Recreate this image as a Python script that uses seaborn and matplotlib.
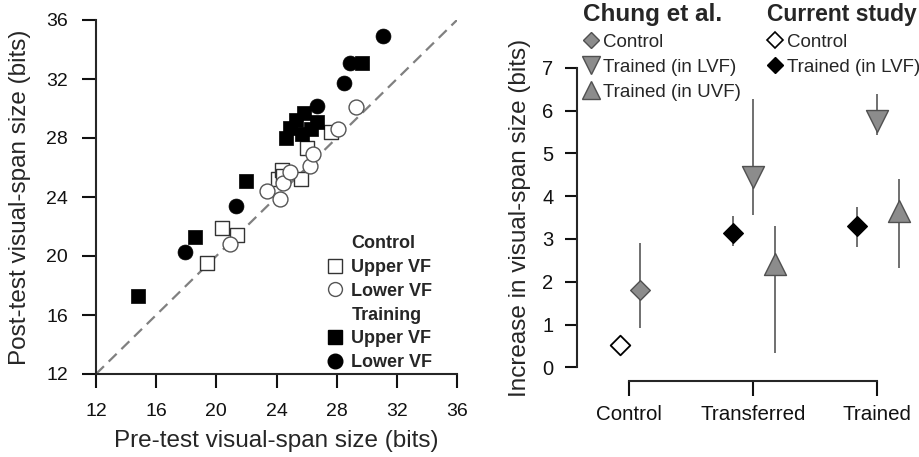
import matplotlib
matplotlib.use("Agg")
import matplotlib.pyplot as plt
import seaborn as sns
import pandas as pd
from matplotlib.lines import Line2D

# ---------------- Left panel data (pre vs post visual-span size, bits) ----------------
ctrl_upper_pre = [19.4, 20.4, 21.4, 24.1, 24.35, 24.45, 25.6, 26.0, 27.6]
ctrl_upper_post = [19.5, 21.9, 21.4, 25.2, 25.85, 25.4, 25.2, 27.3, 28.4]
ctrl_lower_pre = [20.9, 23.35, 24.2, 24.45, 24.9, 26.2, 26.45, 28.1, 29.3]
ctrl_lower_post = [20.8, 24.4, 23.85, 24.95, 25.7, 26.1, 26.9, 28.6, 30.1]
train_upper_pre = [14.8, 18.6, 22.0, 24.6, 24.9, 25.3, 25.8, 25.7, 26.3, 26.7, 29.7]
train_upper_post = [17.3, 21.3, 25.1, 28.0, 28.7, 29.2, 29.7, 28.3, 28.6, 29.1, 33.1]
train_lower_pre = [17.9, 21.3, 26.7, 28.5, 28.9, 31.1]
train_lower_post = [20.3, 23.4, 30.2, 31.7, 33.1, 34.9]
axis_ticks_left = [12, 16, 20, 24, 28, 32, 36]

# ---------------- Right panel data (increase in visual-span size, bits) ----------------
categories = ["Control", "Transferred", "Trained"]
chung_ctrl_cat = ["Control"]
chung_ctrl_mean = [1.81]
chung_ctrl_lo = [0.91]
chung_ctrl_hi = [2.90]
chung_lvf_cat = ["Transferred", "Trained"]
chung_lvf_mean = [4.45, 5.76]
chung_lvf_lo = [3.56, 5.43]
chung_lvf_hi = [6.28, 6.39]
chung_uvf_cat = ["Transferred", "Trained"]
chung_uvf_mean = [2.42, 3.66]
chung_uvf_lo = [0.34, 2.31]
chung_uvf_hi = [3.31, 4.39]
cur_ctrl_cat = ["Control"]
cur_ctrl_mean = [0.52]
cur_lvf_cat = ["Transferred", "Trained"]
cur_lvf_mean = [3.13, 3.31]
cur_lvf_lo = [2.84, 2.82]
cur_lvf_hi = [3.53, 3.74]
right_yticks = [0, 1, 2, 3, 4, 5, 6, 7]

sns.set_style("ticks")
plt.rcParams["font.family"] = ["Liberation Sans", "DejaVu Sans"]
plt.rcParams["axes.linewidth"] = 1.5
plt.rcParams["xtick.major.width"] = 1.5
plt.rcParams["ytick.major.width"] = 1.5
plt.rcParams["xtick.color"] = "#111111"
plt.rcParams["ytick.color"] = "#111111"

fig = plt.figure(figsize=(9.19, 4.57), dpi=100)
W, H = 919, 457

# ================= Left panel =================
ax1 = fig.add_axes([96 / W, (H - 374) / H, 361 / W, 354 / H])
ax1.plot([12, 36], [12, 36], ls=(0, (5, 3)), color="#808080", lw=1.6, zorder=1)

def scat(ax, xs, ys, marker, face, edge, lw):
    df = pd.DataFrame({"x": xs, "y": ys})
    sns.scatterplot(data=df, x="x", y="y", ax=ax, marker=marker, s=115,
                    color=face, edgecolor=edge, linewidth=lw, zorder=3, legend=False)

scat(ax1, ctrl_upper_pre, ctrl_upper_post, "s", "white", "#333333", 1.0)
scat(ax1, ctrl_lower_pre, ctrl_lower_post, "o", "white", "#555555", 1.0)
scat(ax1, train_upper_pre, train_upper_post, "s", "black", "black", 0.5)
scat(ax1, train_lower_pre, train_lower_post, "o", "black", "black", 0.5)

ax1.set_xlim(12, 36)
ax1.set_ylim(12, 36)
ax1.set_xticks(axis_ticks_left)
ax1.set_yticks(axis_ticks_left)
ax1.tick_params(axis="both", direction="out", length=10, labelsize=14)
ax1.tick_params(axis="x", pad=11)
ax1.tick_params(axis="y", pad=10)
ax1.set_xlabel("Pre-test visual-span size (bits)", fontsize=17.5, labelpad=7)
ax1.set_ylabel("Post-test visual-span size (bits)", fontsize=17.5, labelpad=11)
sns.despine(ax=ax1)

blank = Line2D([], [], linestyle="none", marker="none")
h_cu = Line2D([], [], linestyle="none", marker="s", markersize=10, markerfacecolor="white",
              markeredgecolor="#333333", markeredgewidth=1.0)
h_cl = Line2D([], [], linestyle="none", marker="o", markersize=10, markerfacecolor="white",
              markeredgecolor="#555555", markeredgewidth=1.0)
h_tu = Line2D([], [], linestyle="none", marker="s", markersize=10, markerfacecolor="black",
              markeredgecolor="black")
h_tl = Line2D([], [], linestyle="none", marker="o", markersize=10.5, markerfacecolor="black",
              markeredgecolor="black")
leg1 = ax1.legend([blank, h_cu, h_cl, blank, h_tu, h_tl],
                  ["Control", "Upper VF", "Lower VF", "Training", "Upper VF", "Lower VF"],
                  loc="upper left", bbox_to_anchor=(326 / W, 1 - 235 / H),
                  bbox_transform=fig.transFigure, frameon=False,
                  prop={"weight": "bold", "size": 13}, handlelength=1.0,
                  handletextpad=0.4, labelspacing=0.38, borderpad=0, borderaxespad=0)

# ================= Right panel =================
ax2 = fig.add_axes([577 / W, (H - 367.3) / H, 338 / W, 299.6 / H])
cat_pos = {c: i for i, c in enumerate(categories)}
gray_fill = "#8c8c8c"
gray_edge = "#505050"
err_col = "#707070"

def series(ax, cats, means, lo, hi, dodge, marker, size, face, edge, lw):
    xs = [cat_pos[c] + dodge for c in cats]
    if lo is not None:
        ax.vlines(xs, lo, hi, color=err_col, lw=1.4, zorder=1)
    df = pd.DataFrame({"x": xs, "y": means})
    sns.scatterplot(data=df, x="x", y="y", ax=ax, marker=marker, s=size, color=face,
                    edgecolor=edge, linewidth=lw, zorder=3, legend=False, clip_on=False)

series(ax2, chung_ctrl_cat, chung_ctrl_mean, chung_ctrl_lo, chung_ctrl_hi, 0.09, "D", 100,
       gray_fill, gray_edge, 1.0)
series(ax2, cur_ctrl_cat, cur_ctrl_mean, None, None, -0.07, "D", 100, "white", "black", 1.3)
series(ax2, cur_lvf_cat, cur_lvf_mean, cur_lvf_lo, cur_lvf_hi, -0.16, "D", 100,
       "black", "black", 1.0)
series(ax2, chung_lvf_cat, chung_lvf_mean, chung_lvf_lo, chung_lvf_hi, 0.0, "v", 250,
       gray_fill, gray_edge, 1.0)
series(ax2, chung_uvf_cat, chung_uvf_mean, chung_uvf_lo, chung_uvf_hi, 0.175, "^", 250,
       gray_fill, gray_edge, 1.0)

ax2.set_xlim(-0.42, 2.306)
ax2.set_ylim(0, 7)
ax2.set_xticks(range(len(categories)))
ax2.set_xticklabels(categories)
ax2.set_yticks(right_yticks)
ax2.set_xlabel("")
ax2.set_ylabel("Increase in visual-span size (bits)", fontsize=17.5, labelpad=8)
ax2.tick_params(axis="y", direction="out", length=9, labelsize=14.5, pad=8)
ax2.tick_params(axis="x", direction="out", length=11, labelsize=14.8, pad=6)
sns.despine(ax=ax2)
ax2.spines["bottom"].set_position(("outward", 10))
ax2.spines["bottom"].set_bounds(0, 2)
ax2.spines["left"].set_bounds(0, 7)

h_gd = Line2D([], [], linestyle="none", marker="D", markersize=8.5, markerfacecolor=gray_fill,
              markeredgecolor=gray_edge)
h_gv = Line2D([], [], linestyle="none", marker="v", markersize=13, markerfacecolor=gray_fill,
              markeredgecolor=gray_edge)
h_gu = Line2D([], [], linestyle="none", marker="^", markersize=13, markerfacecolor=gray_fill,
              markeredgecolor=gray_edge)
h_wd = Line2D([], [], linestyle="none", marker="D", markersize=8.5, markerfacecolor="white",
              markeredgecolor="black", markeredgewidth=1.2)
h_bd = Line2D([], [], linestyle="none", marker="D", markersize=8.5, markerfacecolor="black",
              markeredgecolor="black")

legA = fig.legend([h_gd, h_gv, h_gu], ["Control", "Trained (in LVF)", "Trained (in UVF)"],
                  title="Chung et al.", loc="upper left", bbox_to_anchor=(583 / W, 1 - 3 / H),
                  frameon=False, fontsize=13.5, title_fontproperties={"weight": "bold", "size": 17.5},
                  alignment="left", handlelength=0.9, handletextpad=0.15, labelspacing=0.42,
                  borderpad=0, borderaxespad=0)
legB = fig.legend([h_wd, h_bd], ["Control", "Trained (in LVF)"],
                  title="Current study", loc="upper left", bbox_to_anchor=(767 / W, 1 - 3 / H),
                  frameon=False, fontsize=13.5, title_fontproperties={"weight": "bold", "size": 16.5},
                  alignment="left", handlelength=0.9, handletextpad=0.15, labelspacing=0.42,
                  borderpad=0, borderaxespad=0)

fig.savefig("out.png", dpi=100)
